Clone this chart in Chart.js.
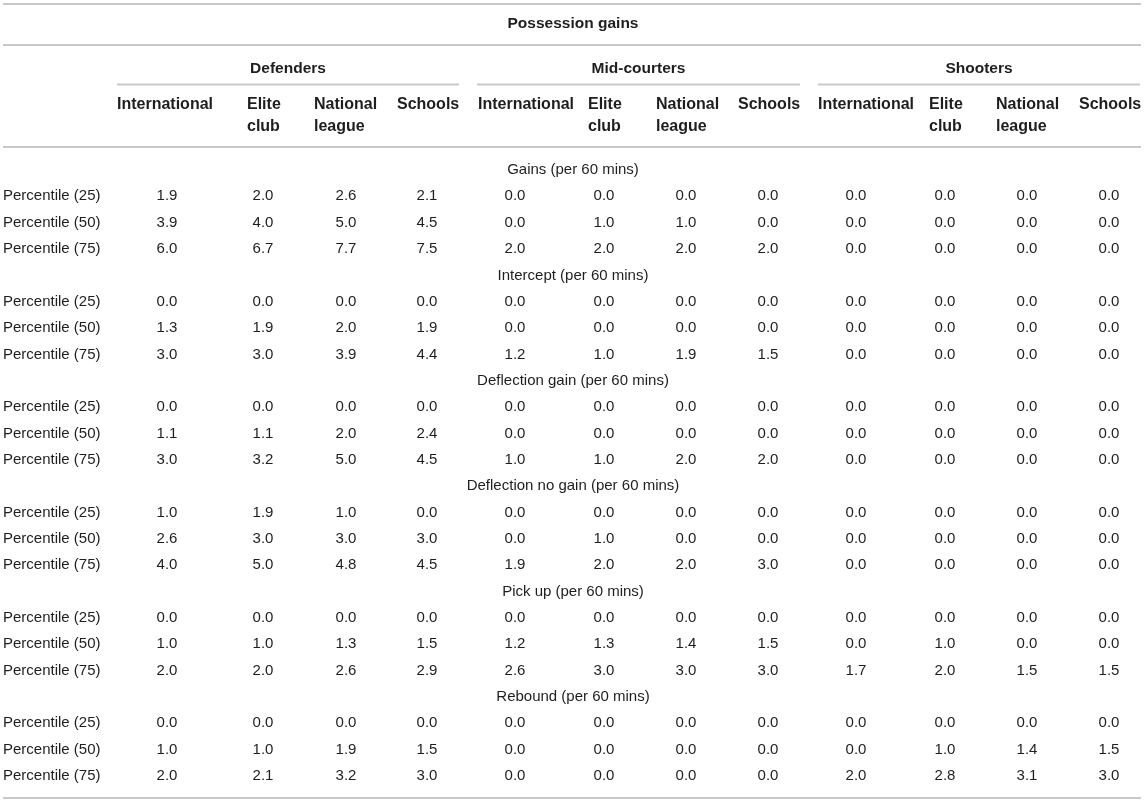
<!DOCTYPE html>
<html>
<head>
<meta charset="utf-8">
<script src="https://cdn.jsdelivr.net/npm/chart.js@4/dist/chart.umd.min.js"></script>
<style>
  html, body { margin: 0; padding: 0; background: #ffffff; }
  #wrap { position: relative; width: 1145px; height: 803px; }
</style>
</head>
<body>
<div id="wrap"><canvas id="c"></canvas></div>
<script>
// ---------------- DATA ----------------
const tableTitle = "Possession gains";
const groups = ["Defenders", "Mid-courters", "Shooters"];
const levels = ["International", "Elite club", "National league", "Schools"];
const levelHeaderLines = [["International"], ["Elite", "club"], ["National", "league"], ["Schools"]];
const metrics = [
  "Gains (per 60 mins)",
  "Intercept (per 60 mins)",
  "Deflection gain (per 60 mins)",
  "Deflection no gain (per 60 mins)",
  "Pick up (per 60 mins)",
  "Rebound (per 60 mins)"
];
const percentiles = ["Percentile (25)", "Percentile (50)", "Percentile (75)"];

// each row: Defenders (Int, Elite, National, Schools) | Mid-courters (...) | Shooters (...)
const gains = [
  [1.9, 2.0, 2.6, 2.1, 0.0, 0.0, 0.0, 0.0, 0.0, 0.0, 0.0, 0.0],
  [3.9, 4.0, 5.0, 4.5, 0.0, 1.0, 1.0, 0.0, 0.0, 0.0, 0.0, 0.0],
  [6.0, 6.7, 7.7, 7.5, 2.0, 2.0, 2.0, 2.0, 0.0, 0.0, 0.0, 0.0]
];
const intercept = [
  [0.0, 0.0, 0.0, 0.0, 0.0, 0.0, 0.0, 0.0, 0.0, 0.0, 0.0, 0.0],
  [1.3, 1.9, 2.0, 1.9, 0.0, 0.0, 0.0, 0.0, 0.0, 0.0, 0.0, 0.0],
  [3.0, 3.0, 3.9, 4.4, 1.2, 1.0, 1.9, 1.5, 0.0, 0.0, 0.0, 0.0]
];
const deflectionGain = [
  [0.0, 0.0, 0.0, 0.0, 0.0, 0.0, 0.0, 0.0, 0.0, 0.0, 0.0, 0.0],
  [1.1, 1.1, 2.0, 2.4, 0.0, 0.0, 0.0, 0.0, 0.0, 0.0, 0.0, 0.0],
  [3.0, 3.2, 5.0, 4.5, 1.0, 1.0, 2.0, 2.0, 0.0, 0.0, 0.0, 0.0]
];
const deflectionNoGain = [
  [1.0, 1.9, 1.0, 0.0, 0.0, 0.0, 0.0, 0.0, 0.0, 0.0, 0.0, 0.0],
  [2.6, 3.0, 3.0, 3.0, 0.0, 1.0, 0.0, 0.0, 0.0, 0.0, 0.0, 0.0],
  [4.0, 5.0, 4.8, 4.5, 1.9, 2.0, 2.0, 3.0, 0.0, 0.0, 0.0, 0.0]
];
const pickUp = [
  [0.0, 0.0, 0.0, 0.0, 0.0, 0.0, 0.0, 0.0, 0.0, 0.0, 0.0, 0.0],
  [1.0, 1.0, 1.3, 1.5, 1.2, 1.3, 1.4, 1.5, 0.0, 1.0, 0.0, 0.0],
  [2.0, 2.0, 2.6, 2.9, 2.6, 3.0, 3.0, 3.0, 1.7, 2.0, 1.5, 1.5]
];
const rebound = [
  [0.0, 0.0, 0.0, 0.0, 0.0, 0.0, 0.0, 0.0, 0.0, 0.0, 0.0, 0.0],
  [1.0, 1.0, 1.9, 1.5, 0.0, 0.0, 0.0, 0.0, 0.0, 1.0, 1.4, 1.5],
  [2.0, 2.1, 3.2, 3.0, 0.0, 0.0, 0.0, 0.0, 2.0, 2.8, 3.1, 3.0]
];
const metricValues = [gains, intercept, deflectionGain, deflectionNoGain, pickUp, rebound];

// ---------------- LAYOUT (table geometry, in x-scale units) ----------------
const W = 1145, H = 803;
const colCenters = [167, 263, 346, 427, 515, 604, 686, 768, 856, 945, 1027, 1109];
const headerLefts = [117, 247, 314, 397, 478, 588, 656, 738, 818, 929, 996, 1079];
const groupSpans = [[117, 459], [477, 800], [818, 1140]];
const rowLabelX = 3;
const tableLeft = 3, tableRight = 1141;
const firstRowY = 170, rowPitch = 26.35, nRows = metrics.length * 4;
const FONT = '"Liberation Sans", Arial, Helvetica, sans-serif';
const TEXT = '#1e1e1e';
const RULE = '#c9c9c9';

// Build row structure: section header rows + percentile rows
const rowKinds = [];
metrics.forEach((m, mi) => {
  rowKinds.push({ type: 'section', text: m });
  percentiles.forEach((p, pi) => rowKinds.push({ type: 'data', label: p, values: metricValues[mi][pi] }));
});

// Cell points for chart (x = column position, y = row index)
const cellPoints = [];
rowKinds.forEach((r, ri) => {
  if (r.type === 'data') r.values.forEach((v, ci) => cellPoints.push({ x: colCenters[ci], y: ri, v: v }));
});

const tablePlugin = {
  id: 'tablePlugin',
  afterDraw(chart) {
    const ctx = chart.ctx;
    const xs = chart.scales.x, ys = chart.scales.y;
    const px = v => xs.getPixelForValue(v);
    const py = v => ys.getPixelForValue(v);
    ctx.save();
    const rule = (x1, x2, y) => {
      ctx.strokeStyle = RULE; ctx.lineWidth = 2;
      ctx.beginPath(); ctx.moveTo(px(x1), y); ctx.lineTo(px(x2), y); ctx.stroke();
    };
    rule(tableLeft, tableRight, 4);
    rule(tableLeft, tableRight, 45);
    groupSpans.forEach(s => rule(s[0], s[1], 84.5));
    rule(tableLeft, tableRight, 147);
    rule(tableLeft, tableRight, 798);

    ctx.fillStyle = TEXT;
    ctx.textBaseline = 'middle';
    ctx.font = 'bold 15.5px ' + FONT;
    ctx.textAlign = 'center';
    ctx.fillText(tableTitle, px((tableLeft + tableRight) / 2 + 1), 23.5);
    groups.forEach((g, gi) => {
      ctx.fillText(g, px((groupSpans[gi][0] + groupSpans[gi][1]) / 2), 68.5);
    });
    ctx.font = 'bold 16px ' + FONT;
    ctx.textAlign = 'left';
    for (let gi = 0; gi < groups.length; gi++) {
      levelHeaderLines.forEach((lines, li) => {
        const ci = gi * levels.length + li;
        lines.forEach((t, k) => ctx.fillText(t, px(headerLefts[ci]), 104.5 + k * 22));
      });
    }
    ctx.font = '15px ' + FONT;
    rowKinds.forEach((r, ri) => {
      const y = py(ri);
      if (r.type === 'section') {
        ctx.textAlign = 'center';
        ctx.fillText(r.text, px((tableLeft + tableRight) / 2 + 1), y);
      } else {
        ctx.textAlign = 'left';
        ctx.fillText(r.label, px(rowLabelX), y);
      }
    });
    ctx.textAlign = 'center';
    chart.data.datasets[0].data.forEach(p => {
      ctx.fillText(p.v.toFixed(1), px(p.x), py(p.y));
    });
    ctx.restore();
  }
};

const areaTop = firstRowY - rowPitch / 2;
const areaBottom = areaTop + rowPitch * nRows;

new Chart(document.getElementById('c'), {
  type: 'scatter',
  data: {
    datasets: [{
      label: 'cells',
      data: cellPoints,
      pointRadius: 0,
      pointHoverRadius: 0,
      showLine: false
    }]
  },
  options: {
    responsive: true,
    maintainAspectRatio: false,
    animation: false,
    events: [],
    layout: { padding: { left: 0, right: 0, top: areaTop, bottom: H - areaBottom } },
    plugins: { legend: { display: false }, tooltip: { enabled: false }, title: { display: false } },
    scales: {
      x: { type: 'linear', min: 0, max: W, display: false },
      y: { type: 'linear', min: -0.5, max: nRows - 0.5, reverse: true, display: false }
    }
  },
  plugins: [tablePlugin]
});
</script>
</body>
</html>
